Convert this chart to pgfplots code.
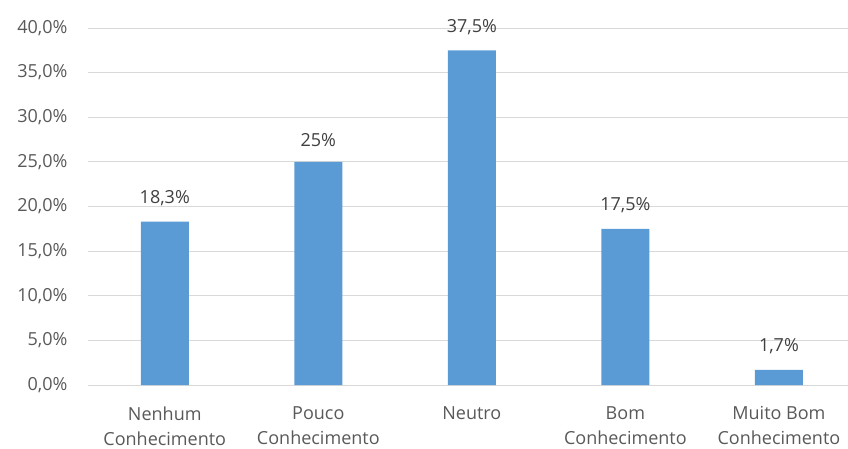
\documentclass[border=0pt]{standalone}
\usepackage{pgfplots}
\pgfplotsset{compat=1.18}
\usepackage{fontspec}
\setmainfont{Open Sans}
\definecolor{barblue}{HTML}{5B9BD5}
\definecolor{gridgray}{HTML}{D9D9D9}
\definecolor{ticktext}{HTML}{595959}
\definecolor{labtext}{HTML}{404040}
\begin{document}
\begin{tikzpicture}[x=1pt,y=1pt]
\begin{axis}[
  at={(0pt,0pt)}, anchor=south west,
  scale only axis, width=760pt, height=357pt,
  ymin=0, ymax=40, ytick={0,5,...,40},
  xmin=-0.5, xmax=4.45,
  xtick={0,1,2,3,4},
  xticklabels={{Nenhum\\Conhecimento},{Pouco\\Conhecimento},{Neutro},{Bom\\Conhecimento},{Muito Bom\\Conhecimento}},
  xticklabel style={align=center, font=\fontsize{18}{25}\selectfont, text=ticktext, yshift=-18pt},
  yticklabel={\pgfmathprintnumber[fixed,fixed zerofill,precision=1,use comma]{\tick}\%},
  yticklabel style={font=\fontsize{18}{20}\selectfont, text=ticktext, xshift=-17pt},
  /pgf/number format/assume math mode=true,
  ymajorgrids, grid style={gridgray, line width=1pt},
  axis line style={draw=none},
  axis x line*=bottom, axis y line*=left,
  x axis line style={draw=gridgray, line width=1pt},
  major tick length=0pt,
  ybar, bar width=48pt,
  point meta=explicit symbolic,
  nodes near coords,
  nodes near coords style={font=\fontsize{18}{20}\selectfont, text=labtext, yshift=12pt},
  clip=false,
]
\addplot[fill=barblue, draw=none] coordinates {
  (0,18.3) [18,3\%]
  (1,25.0) [25\%]
  (2,37.5) [37,5\%]
  (3,17.5) [17,5\%]
  (4,1.7) [1,7\%]
};
\end{axis}
\pgfresetboundingbox
\path[use as bounding box] (-88pt,-63pt) rectangle (760pt,385pt);
\end{tikzpicture}
\end{document}
